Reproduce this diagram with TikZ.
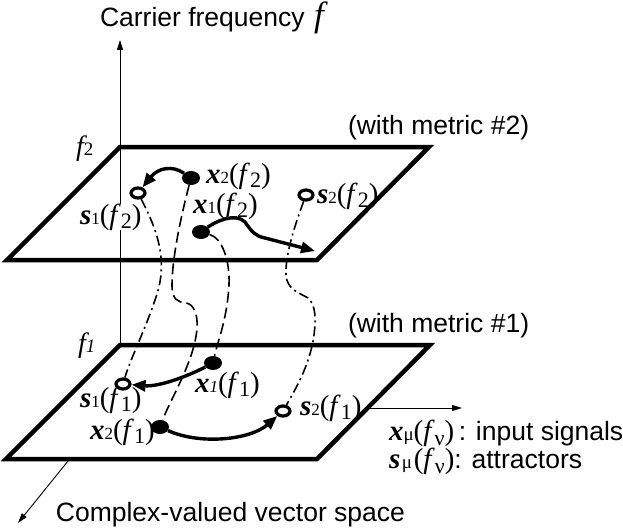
\documentclass[tikz,border=0pt]{standalone}
\usepackage{fontspec}
\setmainfont{Liberation Serif}
\newfontfamily\sansf{Liberation Sans}
\usetikzlibrary{arrows.meta,shapes.geometric}
\newcommand\mylab[3]{{\fontsize{29}{29}\selectfont\bfseries\itshape #1}{\fontsize{17}{17}\selectfont #2}{\fontsize{29}{29}\selectfont(\textit{f}\raisebox{-4pt}{\fontsize{22}{22}\selectfont #3})}}
\begin{document}
\begin{tikzpicture}[x=1pt,y=-1pt,
  planeedge/.style={line width=4.5pt, line join=miter},
  axisline/.style={line width=0.9pt, -{Triangle[length=10pt,width=6pt]}},
  arrowcurve/.style={line width=3.4pt, -{Triangle[length=14pt,width=11pt]}},
  sconn/.style={line width=1.6pt, dash pattern=on 10pt off 4pt on 2pt off 4pt},
  xconn/.style={line width=1.6pt, dash pattern=on 11pt off 5pt},
  dotx/.style={ellipse, fill=black, minimum width=18pt, minimum height=14pt, inner sep=0pt},
  rings/.style={ellipse, draw=black, fill=white, line width=3.2pt, minimum width=14pt, minimum height=10pt, inner sep=0pt},
  lbl/.style={inner sep=0pt, outer sep=0pt, anchor=base west},
  sanslbl/.style={lbl, font=\sansf\fontsize{26.5}{26.5}\selectfont},
]
\useasboundingbox[fill=white] (0,0) rectangle (623,532);

% axes
\coordinate (vaxs) at (120,345);
\coordinate (vaxe) at (120,40);
\coordinate (haxs) at (367,408);
\coordinate (haxe) at (462,408);
\coordinate (daxs) at (68,461);
\coordinate (daxe) at (18,523);
\draw[axisline] (vaxs) -- (vaxe);
\draw[axisline] (haxs) -- (haxe);
\draw[axisline] (daxs) -- (daxe);

% planes
\draw[planeedge] (120,147) -- (429,147) -- (317,260) -- (7,260) -- cycle;
\draw[planeedge] (120,345) -- (430,345) -- (317,459) -- (6,459) -- cycle;

% points
\node[dotx] (x2f2) at (191,178) {};
\node[dotx] (x1f2) at (201,232) {};
\node[rings] (s1f2) at (138,193) {};
\node[rings] (s2f2) at (306,195) {};
\node[dotx] (x1f1) at (213,363) {};
\node[dotx] (x2f1) at (160,427) {};
\node[rings] (s1f1) at (123,384) {};
\node[rings] (s2f1) at (283,411) {};
\coordinate (a2end) at (315,251);

% connectors between planes
\draw[sconn] (s1f2) .. controls (160,235) and (168,265) .. (155,300) .. controls (145,330) and (130,360) .. (s1f1);
\draw[xconn] (x2f2) .. controls (180,220) and (172,260) .. (172,285) .. controls (172,300) and (178,302) .. (186,303) .. controls (194,304) and (198,315) .. (197,328) .. controls (195,360) and (170,400) .. (x2f1);
\draw[xconn] (x1f2) .. controls (222,238) and (230,260) .. (229,285) .. controls (227,320) and (218,340) .. (x1f1);
\draw[sconn] (s2f2) .. controls (295,225) and (285,255) .. (286,275) .. controls (287,290) and (300,293) .. (308,298) .. controls (316,305) and (316,320) .. (314,335) .. controls (310,365) and (295,390) .. (s2f1);

% arrows within planes
\draw[arrowcurve] (x2f2) .. controls (172,165) and (158,168) .. (s1f2);
\draw[arrowcurve] (x1f2) .. controls (215,222) and (235,212) .. (245,222) .. controls (252,232) and (255,236) .. (265,238) -- (a2end);
\draw[arrowcurve] (x1f1) .. controls (190,375) and (160,387) .. (s1f1);
\draw[arrowcurve] (x2f1) .. controls (200,445) and (250,440) .. (s2f1);

% labels
\node[lbl] (tx2f2) at (206,183) {\mylab{x}{2}{2}};
\node[lbl] (tx1f2) at (193,213) {\mylab{x}{1}{2}};
\node[lbl, fill=white] (ts1f2) at (80,224) {\mylab{s}{1}{2}};
\node[lbl] (ts2f2) at (317,203) {\mylab{s}{2}{2}};
\node[lbl] (tx1f1) at (195,392) {\mylab{x}{\textit{1}}{1}};
\node[lbl] (ts1f1) at (80,407) {\mylab{s}{1}{1}};
\node[lbl] (tx2f1) at (90,439) {\mylab{x}{2}{1}};
\node[lbl] (ts2f1) at (300,415) {\mylab{s}{2}{1}};

\node[lbl] (tf2) at (76,155) {{\fontsize{28}{28}\selectfont\itshape f}{\fontsize{19}{19}\selectfont 2}};
\node[lbl] (tf1) at (78,352) {{\fontsize{28}{28}\selectfont\itshape f}{\fontsize{19}{19}\selectfont\itshape 1}};

\node[sanslbl] (tcarrier) at (100,27) {Carrier frequency};
\node[lbl] (tfaxis) at (314,27) {\fontsize{35}{35}\selectfont\itshape f};
\node[sanslbl] (tmetric2) at (348,135) {(with metric \#2)};
\node[sanslbl] (tmetric1) at (348,332) {(with metric \#1)};
\node[sanslbl, anchor=base east] (tspace) at (405,521) {Complex-valued vector space};

\node[lbl] (legx) at (389,440) {{\fontsize{29}{29}\selectfont\bfseries\itshape x}{\fontsize{19}{19}\selectfont μ}{\fontsize{29}{29}\selectfont(\textit{f}\raisebox{-5pt}{\fontsize{22}{22}\selectfont ν})}{\sansf\fontsize{26.5}{26.5}\selectfont\,: input signals}};
\node[lbl] (legs) at (389,468) {{\fontsize{29}{29}\selectfont\bfseries\itshape s}\,{\fontsize{19}{19}\selectfont μ}\,{\fontsize{29}{29}\selectfont(\textit{f}\raisebox{-5pt}{\fontsize{22}{22}\selectfont ν})}{\sansf\fontsize{26.5}{26.5}\selectfont: attractors}};
\end{tikzpicture}
\end{document}
